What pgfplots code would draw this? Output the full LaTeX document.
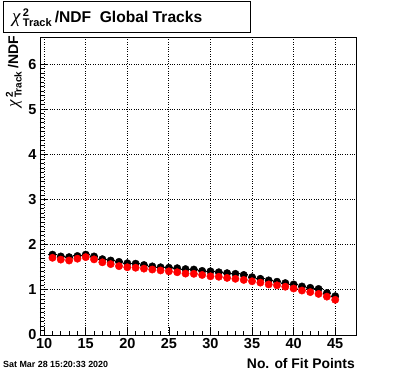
\documentclass[border=0pt]{standalone}
\usepackage{fontspec}
\setmainfont{Liberation Sans}
\newfontfamily\symfont{Liberation Serif}
\usepackage{pgfplots}
\pgfplotsset{compat=1.18}
\begin{document}
\begin{tikzpicture}[x=1pt,y=1pt]
\path[use as bounding box] (0,0) rectangle (396,372);
\begin{axis}[
  at={(40pt,37pt)}, anchor=south west,
  scale only axis, width=316pt, height=298pt,
  xmin=9.5, xmax=47.5, ymin=0, ymax=6.6,
  xtick={10,15,...,45}, minor x tick num=4,
  ytick={0,1,...,6}, minor y tick num=9,
  tick align=inside, xtick pos=lower, ytick pos=left,
  major tick length=8pt, minor tick length=4pt,
  grid=major, major grid style={dotted, black, line width=0.9pt},
  axis line style={line width=0.9pt},
  every tick/.style={black, line width=0.7pt},
  ticklabel style={font=\bfseries\fontsize{14.5}{14.5}\selectfont},
  /pgf/number format/assume math mode=true,
  clip=false,
]
\addplot[black, only marks, mark=*, mark size=3.7pt,
  error bars/.cd, x dir=both, x fixed=0.5, error bar style={line width=1pt, black}, error mark=none]
  coordinates {
(11,1.78)(12,1.74)(13,1.725)(14,1.75)(15,1.78)(16,1.74)(17,1.68)(18,1.65)(19,1.62)(20,1.59)
(21,1.58)(22,1.55)(23,1.52)(24,1.50)(25,1.49)(26,1.48)(27,1.46)(28,1.45)(29,1.42)(30,1.41)
(31,1.39)(32,1.37)(33,1.355)(34,1.33)(35,1.28)(36,1.245)(37,1.21)(38,1.18)(39,1.15)(40,1.12)
(41,1.075)(42,1.045)(43,1.02)(44,0.93)(45,0.86)
  };
\addplot[red, only marks, mark=*, mark size=3.7pt, mark options={fill=red, draw=red}]
  coordinates {
(11,1.71)(12,1.67)(13,1.65)(14,1.69)(15,1.725)(16,1.675)(17,1.61)(18,1.57)(19,1.525)(20,1.50)
(21,1.49)(22,1.47)(23,1.45)(24,1.43)(25,1.41)(26,1.39)(27,1.36)(28,1.355)(29,1.33)(30,1.30)
(31,1.29)(32,1.265)(33,1.245)(34,1.22)(35,1.19)(36,1.16)(37,1.12)(38,1.10)(39,1.07)(40,1.03)
(41,0.985)(42,0.95)(43,0.91)(44,0.85)(45,0.78)
  };
\end{axis}
% title box
\draw[line width=0.9pt, fill=white] (3,340) rectangle (250,371);
\node[anchor=west, inner sep=0] at (12,354) {\bfseries\fontsize{15.6}{15.6}\selectfont $\mbox{\symfont\itshape\mdseries\fontsize{19}{19}\selectfont χ}\,^{\mbox{\bfseries\fontsize{11}{11}\selectfont 2}}_{\mbox{\bfseries\fontsize{11}{11}\selectfont Track}}$\,/NDF\ \ Global Tracks};
% y label
\node[rotate=90, anchor=base east, inner sep=0] at (18,336) {\bfseries\fontsize{14}{14}\selectfont $\mbox{\symfont\itshape\mdseries\fontsize{17}{17}\selectfont χ}\,^{\mbox{\bfseries\fontsize{10}{10}\selectfont 2}}_{\mbox{\bfseries\fontsize{10}{10}\selectfont Track}}$\,/NDF};
% x label
\node[anchor=base east, inner sep=0] at (355,4) {\bfseries\fontsize{13.9}{13.9}\selectfont No. of Fit Points};
% date
\node[anchor=base west, inner sep=0] at (3,5) {\bfseries\fontsize{8.9}{8.9}\selectfont Sat Mar 28 15:20:33 2020};
\end{tikzpicture}
\end{document}
